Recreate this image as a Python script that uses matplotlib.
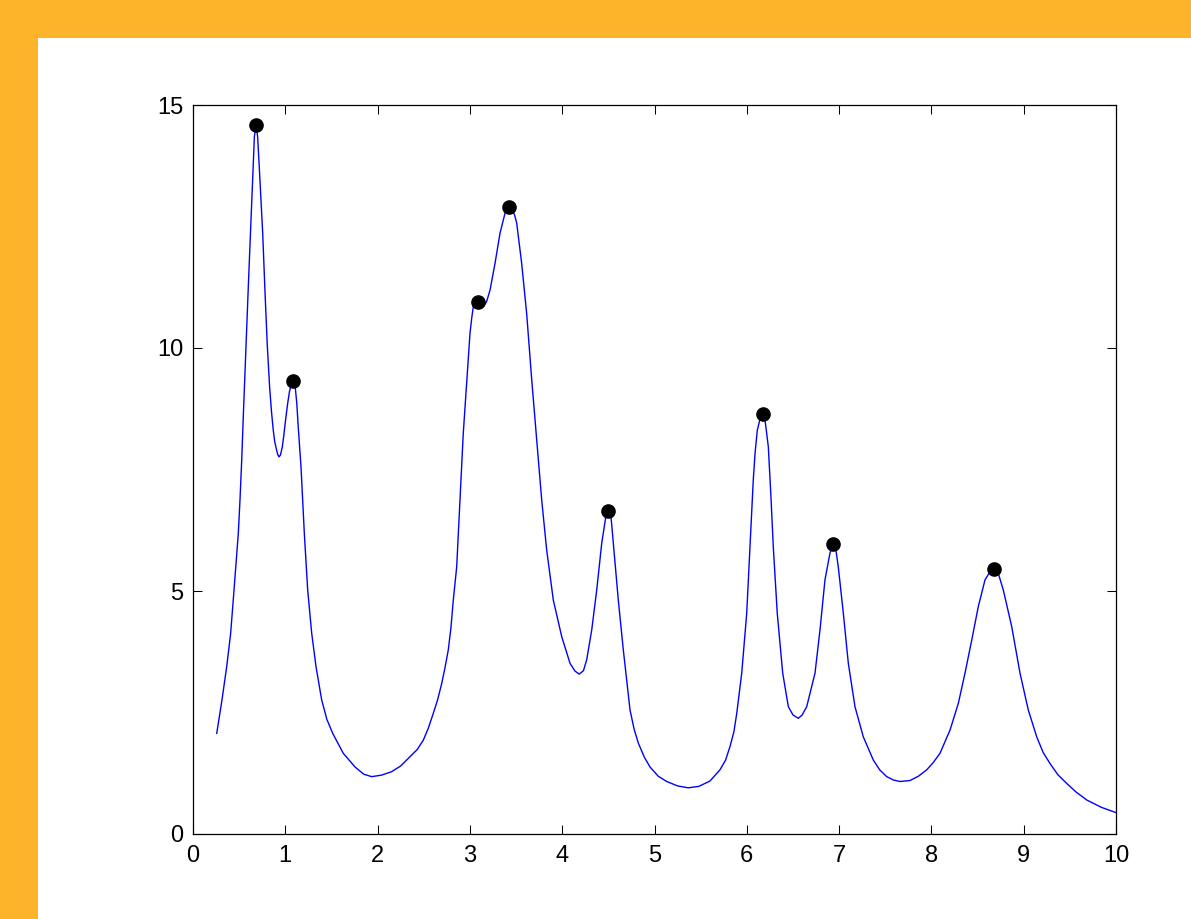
import matplotlib

matplotlib.use("Agg")
import matplotlib.pyplot as plt  # noqa: E402
from matplotlib.patches import Rectangle  # noqa: E402

# curve
curve_x = [
    0.257, 0.314, 0.365, 0.408, 0.444, 0.491, 0.509, 0.528, 0.545, 0.574, 0.600, 0.621,
    0.650, 0.665, 0.683, 0.700, 0.718, 0.755, 0.780, 0.805, 0.830, 0.850, 0.870, 0.885,
    0.903, 0.918, 0.932, 0.948, 0.968, 0.985, 1.005, 1.025, 1.045, 1.065, 1.087, 1.105,
    1.125, 1.141, 1.170, 1.206, 1.243, 1.286, 1.333, 1.394, 1.450, 1.514, 1.628,
    1.755, 1.850, 1.936, 2.040, 2.150, 2.250, 2.351, 2.430, 2.495, 2.550, 2.603, 2.650,
    2.695, 2.730, 2.766, 2.795, 2.820, 2.857, 2.893, 2.928, 2.965, 3.001, 3.020, 3.037,
    3.060, 3.091, 3.120, 3.145, 3.180, 3.218, 3.272, 3.326, 3.380, 3.400, 3.427, 3.460,
    3.485, 3.507, 3.561, 3.615, 3.670, 3.724, 3.778, 3.832, 3.904, 3.995, 4.085, 4.140,
    4.185, 4.230, 4.265, 4.320, 4.374, 4.428, 4.470, 4.500, 4.530, 4.554, 4.608, 4.662,
    4.735, 4.780, 4.825, 4.890, 4.951, 5.040, 5.132, 5.250, 5.366, 5.480, 5.601, 5.709,
    5.770, 5.818, 5.860, 5.891, 5.945, 5.999, 6.035, 6.070, 6.090, 6.114, 6.145, 6.172,
    6.200, 6.233, 6.260, 6.287, 6.330, 6.389, 6.450, 6.500, 6.558, 6.600, 6.649, 6.739,
    6.793, 6.847, 6.901, 6.937, 6.965, 6.991, 7.046, 7.100, 7.172, 7.262, 7.371, 7.440,
    7.516, 7.590, 7.660, 7.768, 7.860, 7.949, 8.020, 8.093, 8.202, 8.292, 8.364, 8.437,
    8.508, 8.581, 8.630, 8.682, 8.730, 8.779, 8.870, 8.960, 9.050, 9.141, 9.210, 9.285,
    9.370, 9.466, 9.570, 9.683, 9.840, 10.0,
]
curve_y = [
    2.07, 2.76, 3.44, 4.13, 5.01, 6.19, 6.87, 7.70, 8.60, 10.05, 11.30, 12.30,
    13.70, 14.35, 14.59, 14.35, 13.72, 12.37, 11.15, 10.05, 9.20, 8.70, 8.30, 8.08,
    7.92, 7.81, 7.76, 7.80, 7.97, 8.22, 8.55, 8.85, 9.10, 9.26, 9.33, 9.25,
    8.85, 8.35, 7.56, 6.19, 5.01, 4.13, 3.44, 2.76, 2.36, 2.07, 1.66,
    1.38, 1.23, 1.18, 1.21, 1.28, 1.40, 1.59, 1.74, 1.93, 2.18, 2.48, 2.76,
    3.10, 3.42, 3.79, 4.25, 4.81, 5.50, 6.87, 8.24, 9.27, 10.30, 10.62, 10.85,
    10.93, 10.95, 10.90, 10.85, 10.95, 11.19, 11.74, 12.36, 12.77, 12.87, 12.91, 12.85,
    12.73, 12.57, 11.74, 10.71, 9.34, 8.11, 6.87, 5.84, 4.81, 4.06, 3.51, 3.35,
    3.29, 3.36, 3.58, 4.20, 5.02, 5.98, 6.50, 6.65, 6.50, 5.98, 4.81, 3.79,
    2.55, 2.15, 1.87, 1.58, 1.38, 1.19, 1.08, 0.99, 0.95, 0.98, 1.09, 1.32,
    1.52, 1.80, 2.10, 2.48, 3.31, 4.54, 5.91, 7.28, 7.85, 8.31, 8.55, 8.64,
    8.48, 7.97, 7.00, 5.91, 4.54, 3.31, 2.62, 2.45, 2.38, 2.45, 2.62, 3.31,
    4.20, 5.23, 5.78, 5.97, 5.85, 5.50, 4.54, 3.51, 2.62, 2.00, 1.52, 1.32,
    1.18, 1.11, 1.08, 1.10, 1.19, 1.32, 1.47, 1.66, 2.14, 2.69, 3.31, 3.99,
    4.68, 5.23, 5.38, 5.45, 5.33, 5.02, 4.27, 3.31, 2.55, 2.00, 1.68, 1.45,
    1.22, 1.04, 0.86, 0.70, 0.55, 0.44,
]

peak_x = [0.683, 1.087, 3.091, 3.427, 4.500, 6.172, 6.937, 8.682]
peak_y = [14.59, 9.33, 10.95, 12.91, 6.65, 8.64, 5.97, 5.45]

x_ticks = [0, 1, 2, 3, 4, 5, 6, 7, 8, 9, 10]
y_ticks = [0, 5, 10, 15]

W, H = 1191, 919
BORDER = 38
ORANGE = "#FDB42B"

plt.rcParams["font.family"] = ["Liberation Sans", "DejaVu Sans"]

fig = plt.figure(figsize=(W / 100, H / 100), dpi=100, facecolor=ORANGE)
# white page, orange strip left and top
fig.patches.append(
    Rectangle((BORDER / W, 0), 1 - BORDER / W, 1 - BORDER / H,
              transform=fig.transFigure, facecolor="white", edgecolor="none", zorder=-10)
)

ax = fig.add_axes([193 / W, (H - 834) / H, (1116 - 193) / W, (834 - 105) / H])
ax.set_zorder(5)
ax.plot(curve_x, curve_y, color="#0000FF", linewidth=1.0)
ax.plot(peak_x, peak_y, "o", color="black", markersize=9.5, linestyle="none")

ax.set_xlim(0, 10)
ax.set_ylim(0, 15)
ax.set_xticks(x_ticks)
ax.set_yticks(y_ticks)
ax.tick_params(direction="in", length=6.5, width=0.75, top=True, right=True,
               labelsize=17, colors="black")
ax.tick_params(axis="x", pad=8)
ax.tick_params(axis="y", pad=7)
for sp in ax.spines.values():
    sp.set_linewidth(0.9)

fig.savefig("out.png", dpi=100, facecolor=ORANGE)
